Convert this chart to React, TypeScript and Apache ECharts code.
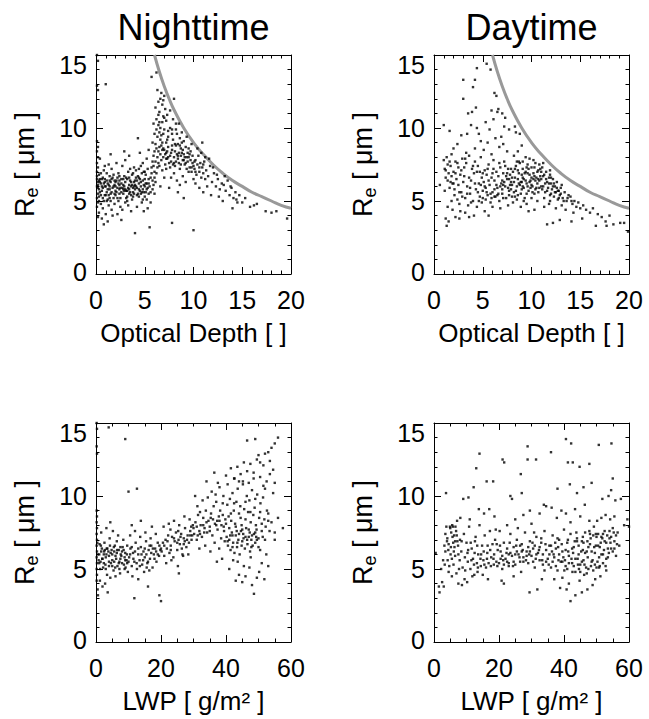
import React, { useEffect, useRef } from "react";
import * as echarts from "echarts";

const FONT = '"Liberation Sans", Arial, Helvetica, sans-serif';

// ---- tick values ----
const reTicks = [0, 5, 10, 15];
const tauTicks = [0, 5, 10, 15, 20];
const lwpTicks = [0, 20, 40, 60];

// ---- titles / axis names ----
const columnTitles = ["Nighttime", "Daytime"];
const tauName = "Optical Depth [ ]";
const lwpName = "LWP [ g/m\u00B2 ]";

// ---- gray limit curve (optical depth, Re) ----
const curveTau = [6, 6.5, 7, 7.5, 8, 9, 10, 11, 12, 13, 14, 15, 16, 17, 18, 19, 20];
const curveRe = [15, 13.85, 12.86, 12, 11.25, 10, 9, 8.2, 7.5, 6.9, 6.4, 6.0, 5.6, 5.3, 5.0, 4.7, 4.5];

// ---- Nighttime: optical depth vs Re ----
const nightTauRe = [
  [0.1,15.0],[0.2,14.6],[0.1,12.9],[0.2,12.6],[0.1,9.1],[0.2,8.7],[0.1,8.4],[0.2,8.0],[0.1,7.6],[0.2,7.3],[0.1,7.0],[0.3,6.8],[0.1,6.5],[0.2,6.3],[0.1,6.0],[0.3,5.8],[0.2,5.5],[0.1,5.2],[0.2,4.9],[0.1,4.6],[0.3,4.2],[0.2,3.9],[0.1,6.7],[0.2,6.1],[0.3,5.3],
  [0.5,6.2],[0.6,5.7],[0.7,6.6],[0.8,7.1],[0.5,4.8],[0.9,5.4],[1.0,6.0],[1.1,6.4],[1.2,5.1],[1.3,7.5],[0.6,3.8],[0.8,3.4],[1.4,5.8],[1.5,6.3],[1.6,4.4],[1.7,5.9],[1.8,6.8],[1.9,5.5],[1.0,4.1],[1.2,3.6],[0.7,5.2],[1.1,6.9],[1.5,5.0],[1.9,6.1],[0.9,6.5],[1.6,7.2],[1.3,4.7],[0.4,7.9],[1.7,4.0],[2.0,5.7],[1.0,13.0],[1.5,8.2],[0.7,5.9],[1.4,6.7],
  [2.1,6.4],[2.2,5.2],[2.3,6.9],[2.4,5.8],[2.5,4.6],[2.6,6.2],[2.7,7.4],[2.8,5.5],[2.9,6.0],[3.0,4.9],[3.1,6.6],[3.2,5.3],[3.3,7.0],[3.4,6.1],[3.5,5.6],[3.6,4.3],[3.7,6.8],[3.8,5.9],[3.9,6.3],[2.2,4.1],[2.6,3.7],[3.0,7.8],[3.4,8.1],[2.4,6.7],[2.8,6.5],[3.2,5.0],[3.6,5.4],[3.9,7.3],[2.0,6.0],[2.5,5.9],[3.1,5.7],[3.5,6.4],[2.3,5.0],[2.7,4.4],[3.7,5.1],[2.9,8.4],[4.0,2.8],[3.3,4.7],[2.1,7.6],[3.8,6.9],
  [4.1,6.0],[4.2,5.4],[4.3,6.7],[4.4,7.2],[4.5,5.7],[4.6,6.3],[4.7,4.9],[4.8,7.6],[4.9,6.1],[5.0,5.3],[5.1,6.8],[5.2,7.9],[5.3,5.9],[5.4,6.5],[4.2,4.6],[4.5,8.3],[4.8,5.1],[5.0,7.0],[5.3,4.5],[4.4,6.2],[4.7,6.9],[5.1,5.6],[4.0,5.8],[4.6,7.4],[5.4,8.5],[4.3,9.3],[5.2,6.2],[4.9,4.3],[5.5,3.2],[4.1,7.1],
  [0.3,6.4],[0.4,5.6],[0.5,6.9],[0.6,6.0],[0.8,5.0],[0.9,7.4],[1.1,5.6],[1.2,6.2],[1.3,5.4],[1.4,6.0],[1.6,6.5],[1.8,5.2],[2.0,6.3],[2.2,5.9],[2.4,6.1],[2.6,5.6],[2.8,6.1],[3.0,5.8],[3.2,6.5],[3.4,5.5],[3.6,6.0],[3.8,5.6],[4.0,6.4],[4.2,5.9],[4.4,5.3],[4.6,5.5],[4.8,6.4],[5.0,6.0],[5.2,5.1],[5.4,5.5],
  [0.2,5.9],[0.4,6.3],[0.6,6.5],[0.8,6.2],[1.0,5.4],[1.2,5.8],[1.4,6.4],[1.6,5.6],[1.8,6.0],[2.0,5.4],[2.2,6.6],[2.4,5.5],[2.6,6.5],[2.8,5.8],[3.0,6.3],[3.2,5.7],[3.4,6.6],[3.6,6.3],[3.8,5.3],[4.0,6.1],[4.2,6.4],[4.4,5.8],[4.6,6.0],[4.8,5.8],[5.0,6.5],[5.2,5.8],[5.4,6.2],[5.6,5.6],[5.8,6.4],[6.0,6.6],
  [0.3,5.0],[0.5,5.4],[0.7,4.5],[0.9,6.0],[1.1,5.0],[1.3,6.1],[1.5,5.5],[1.7,6.6],[1.9,4.8],[2.1,5.6],[2.3,6.2],[2.5,5.2],[2.7,5.9],[2.9,6.7],[3.1,5.2],[3.3,5.9],[3.5,7.2],[3.7,6.1],[3.9,5.5],[4.1,6.6],[4.3,5.5],[4.5,6.5],[4.7,5.6],[4.9,7.0],[5.1,6.2],[5.3,7.2],[5.5,6.0],[5.7,6.9],[5.9,7.4],[6.1,7.7],
  [0.4,6.5],[0.9,6.3],[1.4,5.2],[1.9,6.4],[2.4,6.4],[2.9,5.7],[3.4,5.8],[3.9,6.0],[4.4,6.6],[4.9,5.6],
  [5.6,6.6],[5.7,7.3],[5.8,5.8],[5.9,8.1],[6.0,7.0],[6.1,6.3],[6.2,8.6],[6.3,9.4],[6.4,10.2],[6.5,11.1],[6.6,12.0],[6.7,12.4],[6.8,11.6],[6.9,10.8],[7.0,9.9],[7.1,11.3],[7.2,10.5],[7.3,9.2],[7.4,8.7],[6.0,9.6],[6.2,10.6],[6.4,11.8],[6.6,10.0],[6.8,9.0],[7.0,12.2],[7.2,8.3],[6.1,11.4],[6.3,12.6],[6.5,9.7],[6.7,8.8],[6.9,8.0],[7.1,7.5],[7.3,7.9],[5.8,7.7],[6.0,5.5],[6.2,6.9],[6.4,7.6],[6.6,8.2],[6.8,7.1],[7.0,6.6],[7.2,7.2],[7.4,9.8],[5.7,13.5],[6.2,13.8],[5.9,10.3],[6.5,10.4],[6.9,11.9],[7.3,10.9],[6.1,8.9],[6.7,9.5],[5.6,4.9],[7.5,5.9],[6.3,7.3],[7.0,8.5],[6.6,6.0],[5.9,6.1],
  [6.3,8.0],[6.5,7.4],[6.7,7.8],[6.9,8.6],[7.1,8.2],[7.3,8.4],[7.5,7.6],[7.7,8.3],[7.9,7.5],[8.1,8.9],[8.3,8.2],[8.5,7.6],[8.7,8.1],[8.9,8.5],[9.1,8.0],[9.3,7.2],[9.5,8.6],[9.7,7.8],[9.9,8.1],[10.1,7.7],[6.4,8.4],[6.8,8.5],[7.2,7.9],[7.6,7.3],[8.0,7.6],[8.4,8.1],[8.8,8.3],[9.2,7.6],[9.6,8.2],[10.0,7.4],
  [6.6,9.2],[6.2,9.9],[6.8,10.4],[7.0,10.7],[6.4,10.9],[6.9,9.6],[7.4,9.4],[7.8,9.6],[8.2,10.3],[8.6,9.3],[6.0,8.4],[5.8,9.0],[6.5,8.7],[7.2,9.0],[7.8,9.9],
  [7.4,8.0],[7.8,8.8],[8.2,7.7],[8.6,8.8],[9.0,7.8],[9.4,8.3],[9.8,7.3],[10.2,7.0],[10.6,7.3],[11.0,7.5],
  [7.6,8.1],[7.7,7.7],[7.8,8.5],[7.9,9.2],[8.0,8.0],[8.1,7.4],[8.2,8.8],[8.3,9.6],[8.4,7.9],[8.5,8.3],[8.6,7.2],[8.7,8.6],[8.8,9.0],[8.9,7.8],[9.0,8.2],[9.1,7.5],[9.2,8.7],[9.3,9.4],[9.4,7.7],[9.5,8.0],[9.6,7.3],[9.7,8.4],[9.8,7.0],[9.9,7.6],[7.6,10.0],[7.9,10.6],[8.2,9.9],[8.5,10.3],[8.8,9.7],[7.7,6.6],[8.0,6.9],[8.3,6.4],[8.6,6.1],[8.9,6.7],[9.2,6.3],[9.5,7.0],[9.8,8.9],[8.1,8.4],[8.4,8.9],[8.7,7.5],[9.0,9.1],[9.3,8.0],[7.8,3.5],[9.0,5.2],[8.4,5.6],[7.6,11.2],[8.0,12.0],[10.0,6.5],
  [10.1,7.2],[10.2,7.8],[10.3,6.8],[10.4,7.5],[10.5,8.1],[10.6,7.0],[10.7,7.6],[10.8,6.6],[10.9,7.3],[11.0,6.9],[11.1,7.7],[11.2,6.5],[11.3,7.1],[11.5,6.7],[11.7,7.4],[11.9,6.3],[12.1,6.9],[12.3,6.0],[12.5,6.5],[12.7,5.8],[12.9,6.2],[10.2,6.2],[10.6,5.9],[11.0,5.6],[11.4,6.0],[10.4,8.6],[10.8,8.3],[11.2,8.0],[11.6,7.9],[12.0,7.3],[12.4,6.8],[10.0,3.0],[11.8,5.4],[12.6,5.3],[10.9,9.0],
  [13.1,6.1],[13.3,5.7],[13.5,6.4],[13.7,5.4],[13.9,5.9],[14.1,5.2],[14.3,5.6],[14.5,4.9],[14.7,5.4],[13.2,6.7],[13.8,6.0],[14.4,5.1],[15.0,4.9],[15.3,5.2],[16.2,4.7],[16.5,4.8],[15.8,4.6],[17.4,4.3],[18.0,4.2],[18.5,4.3],[19.6,3.8],[13.0,5.0],[14.0,4.5]
];

// ---- Daytime: optical depth vs Re ----
const dayTauRe = [
  [0.6,6.1],[1.0,7.8],[1.1,7.2],[1.2,6.6],[1.3,8.0],[1.4,7.5],[1.5,6.9],[1.6,5.9],[1.7,7.4],[1.8,8.2],[1.9,6.2],[2.0,7.0],[2.1,5.4],[2.2,7.7],[2.3,6.5],[2.4,5.1],[2.5,7.3],[2.6,4.8],[2.7,6.8],[2.8,5.6],[2.9,7.9],[1.2,3.8],[1.3,3.3],[1.5,3.6],[1.9,4.4],[2.2,3.9],[2.6,3.8],[1.0,10.2],[1.6,9.8],[2.0,8.6],[2.4,8.9],[2.8,9.5],[1.4,4.6],[2.1,5.8],[2.7,4.3],[1.8,5.0],[1.1,5.7],[2.5,6.1],[1.7,6.3],[2.9,5.3],[3.0,13.3],[3.0,12.0],
  [3.1,6.7],[3.2,5.2],[3.3,7.6],[3.4,6.0],[3.5,4.7],[3.6,8.1],[3.7,5.5],[3.8,6.4],[3.9,7.2],[4.0,5.0],[4.1,6.9],[4.2,8.6],[4.3,5.8],[4.4,4.6],[4.5,7.4],[4.6,6.2],[4.7,5.3],[4.8,9.1],[4.9,6.6],[3.2,4.2],[3.6,3.9],[4.1,4.0],[3.4,9.6],[3.8,10.2],[4.4,10.0],[3.5,11.0],[3.9,11.1],[4.0,12.8],[4.3,11.4],[4.6,9.6],[3.3,8.3],[4.2,7.7],[4.8,8.0],[3.7,5.9],[4.5,5.6],[4.9,4.9],[4.2,13.3],[4.4,14.1],[3.1,7.3],[4.7,7.0],
  [1.2,7.1],[1.4,6.4],[1.6,7.7],[1.8,6.7],[2.0,6.2],[2.2,6.9],[2.4,7.6],[2.6,5.6],[2.8,7.1],[3.0,6.3],[3.2,7.9],[3.4,5.5],[3.6,6.6],[3.8,4.9],[4.0,7.4],[4.2,6.2],[4.4,7.0],[4.6,5.0],[4.8,6.1],[5.0,5.2],[5.2,6.0],[5.4,5.6],[5.6,6.4],[5.8,5.5],[6.0,6.9],[6.2,5.3],[6.4,6.1],[6.6,5.5],[6.8,6.0],[7.0,5.8],
  [5.0,5.7],[5.1,6.3],[5.2,7.1],[5.3,5.1],[5.4,6.8],[5.5,5.4],[5.6,7.5],[5.7,6.1],[5.8,4.9],[5.9,6.6],[6.0,5.6],[6.1,7.8],[6.2,6.4],[6.3,5.3],[6.4,7.0],[6.5,5.9],[6.6,6.7],[6.7,5.0],[6.8,7.3],[6.9,6.2],[7.0,5.5],[7.1,6.9],[7.2,7.7],[7.3,6.0],[7.4,5.2],[7.5,6.5],[7.6,7.2],[7.7,5.7],[7.8,6.8],[7.9,6.3],[5.1,8.5],[5.5,9.0],[5.9,8.2],[6.3,9.3],[6.7,8.7],[7.1,8.9],[7.5,8.4],[5.3,10.4],[5.7,9.9],[6.1,10.6],[6.5,11.1],[6.9,9.4],[7.3,10.7],[7.7,9.9],[5.4,14.4],[5.8,14.0],[6.2,12.4],[6.4,12.2],[5.9,11.2],[6.6,11.3],[7.0,11.0],[5.2,4.3],[6.0,4.6],[6.8,4.5],[7.6,4.7],[5.6,4.0],[7.2,10.1],[6.2,5.8],[7.0,6.4],[5.0,6.9],
  [7.2,6.3],[7.4,6.7],[7.6,5.9],[7.8,6.1],[8.0,6.6],[8.2,6.3],[8.4,5.7],[8.6,6.5],[8.8,6.1],[9.0,6.8],[9.2,5.9],[9.4,6.4],[9.6,6.0],[9.8,6.3],[10.0,6.1],[10.2,6.5],[10.4,5.8],[10.6,7.0],[10.8,6.4],[11.0,6.0],[11.2,6.7],[11.4,6.2],[11.6,5.7],[11.8,6.2],[12.0,5.5],[12.2,6.0],[12.4,5.6],[12.6,5.9],[12.8,5.2],[13.0,5.5],
  [7.1,6.1],[7.5,6.9],[7.9,5.8],[8.3,7.2],[8.7,6.2],[9.1,6.6],[9.5,7.3],[9.9,5.9],[10.3,6.7],[10.7,6.5],[11.1,5.8],[11.5,6.5],[11.9,6.8],[12.3,6.2],[12.7,5.7],[13.1,6.1],[8.0,5.3],[9.0,6.3],[10.0,6.6],[11.0,7.0],[12.0,6.6],[9.3,6.9],[10.5,5.9],[8.6,7.1],[7.7,6.5],
  [5.5,7.2],[6.1,7.2],[6.7,7.6],[7.3,7.4],[7.9,7.2],[8.5,7.7],[9.1,7.7],[9.7,7.2],[10.3,7.3],[10.9,7.2],[5.3,5.9],[5.9,5.2],[6.5,5.4],[7.1,5.2],[7.7,5.4],[8.3,5.3],[8.9,5.5],[9.5,5.5],[10.1,5.6],[10.7,5.6],[11.3,5.2],[11.9,5.0],[13.3,5.0],[13.7,5.2],[14.1,5.0],
  [8.0,6.1],[8.1,7.0],[8.2,5.6],[8.3,6.6],[8.4,7.4],[8.5,6.0],[8.6,5.4],[8.7,6.9],[8.8,7.6],[8.9,6.3],[9.0,5.8],[9.1,7.2],[9.2,6.5],[9.3,5.2],[9.4,7.0],[9.5,6.2],[9.6,7.5],[9.7,5.7],[9.8,6.8],[9.9,6.4],[10.0,7.3],[10.1,6.0],[10.2,6.9],[10.3,5.5],[10.4,7.6],[10.5,6.6],[10.6,6.2],[10.7,7.1],[10.8,5.9],[10.9,6.7],[8.2,8.1],[8.6,8.4],[9.0,8.8],[9.4,8.0],[9.8,7.9],[10.2,7.8],[8.4,9.7],[8.8,9.6],[8.1,4.9],[8.9,4.6],[9.5,4.8],[10.3,4.4],[8.5,5.1],[9.2,5.0],[10.0,5.2],[10.6,5.0],[9.7,4.3],[8.3,10.1],[9.1,6.0],[10.4,6.4],[8.7,7.7],[9.6,6.9],[10.8,7.5],
  [11.0,6.5],[11.1,7.3],[11.2,6.0],[11.3,6.8],[11.4,5.6],[11.5,7.0],[11.6,6.3],[11.7,5.9],[11.8,6.6],[11.9,5.4],[12.0,6.2],[12.1,5.8],[12.2,6.5],[12.3,5.3],[12.4,6.0],[12.5,5.6],[12.6,6.3],[12.7,5.1],[12.8,5.7],[12.9,5.4],[13.0,5.9],[13.2,5.2],[13.4,5.6],[13.6,5.0],[13.8,5.4],[11.3,4.6],[11.8,4.8],[12.5,4.5],[13.1,4.7],[11.6,3.4],[12.2,3.5],[11.2,7.6],[11.9,7.1],[13.5,4.4],[12.9,3.7],
  [14.0,5.3],[14.2,4.8],[14.4,5.0],[14.6,4.6],[14.8,4.9],[15.0,4.5],[15.3,4.7],[15.6,4.4],[16.0,4.2],[16.3,4.5],[16.8,4.1],[17.2,3.9],[17.6,3.6],[18.0,4.0],[18.4,3.4],[19.1,3.5],[19.5,3.5],[19.9,2.9],[15.2,3.8],[14.3,4.2],[14.1,3.6],[16.6,3.3],[17.7,3.3]
];

// ---- Nighttime: LWP vs Re ----
const nightLwpRe = [
  [0.2,15.0],[0.3,14.6],[0.2,13.4],[0.3,12.9],[0.2,9.0],[0.3,8.6],[0.2,8.2],[0.3,7.8],[0.2,7.4],[0.3,7.0],[0.2,6.6],[0.3,6.2],[0.2,5.8],[0.3,5.4],[0.2,5.0],[0.3,4.6],[0.2,4.2],[0.5,3.6],[0.6,3.2],[0.4,6.8],
  [1.0,6.0],[1.4,5.5],[1.8,6.4],[2.2,5.1],[2.6,6.8],[3.0,5.8],[3.4,4.6],[3.8,6.2],[4.2,7.1],[4.6,5.4],[5.0,6.0],[5.4,4.9],[5.8,6.6],[6.2,5.7],[6.6,5.2],[7.0,6.3],[7.4,4.7],[7.8,5.9],[8.2,6.5],[8.6,5.3],[9.0,6.1],[9.4,5.6],[9.8,4.8],[1.2,4.2],[2.0,3.8],[2.8,4.0],[3.6,3.4],[4.4,4.4],[1.6,7.5],[3.2,7.8],[5.2,7.6],[6.8,7.3],[8.4,7.0],[2.4,6.0],[4.0,5.9],[5.6,6.2],[7.2,5.5],[8.8,5.0],[3.9,14.7],[9.0,13.9],[4.4,8.2],[1.3,5.0],[2.9,5.3],[6.0,4.5],[9.6,6.6],[7.6,6.0],[5.0,5.6],[3.3,6.4],[1.9,5.7],[6.4,6.9],
  [0.8,5.6],[1.6,6.2],[2.4,5.4],[3.2,6.0],[4.0,5.2],[4.8,6.3],[5.6,5.5],[6.4,6.1],[7.2,5.0],[8.0,6.2],[8.8,5.8],[9.6,5.4],[1.1,6.7],[2.7,6.3],[4.3,6.6],[5.9,5.1],[7.5,6.5],[9.1,5.1],
  [0.5,6.0],[1.0,5.4],[1.5,6.6],[2.0,5.7],[2.5,6.2],[3.0,5.0],[3.5,6.4],[4.0,5.5],[4.5,6.1],[5.0,5.2],[5.5,6.5],[6.0,5.9],[6.5,6.3],[7.0,5.4],[7.5,5.7],[8.0,5.4],[8.5,6.3],[9.0,5.6],[9.5,6.0],[10.0,5.5],[10.5,6.0],[11.0,6.5],[11.5,5.7],[12.0,6.2],[12.5,5.4],[13.0,6.4],[13.5,5.2],[14.0,6.0],[14.5,5.6],[15.0,6.4],[15.5,6.0],[16.0,5.5],[16.5,6.6],[17.0,6.1],[17.5,6.4],[18.0,5.7],[18.5,6.2],[19.0,6.0],[19.5,6.6],[20.0,6.4],
  [10.2,5.8],[10.6,6.4],[11.0,5.2],[11.4,6.1],[11.8,5.5],[12.2,6.8],[12.6,5.0],[13.0,6.0],[13.4,5.6],[13.8,6.5],[14.2,5.3],[14.6,6.2],[15.0,5.8],[15.4,6.9],[15.8,5.4],[16.2,6.3],[16.6,5.7],[17.0,6.6],[17.4,5.1],[17.8,6.0],[18.2,6.4],[18.6,5.5],[19.0,6.8],[19.4,5.9],[19.8,6.3],[10.5,7.3],[12.0,7.6],[13.6,7.2],[15.2,7.5],[16.8,7.1],[18.4,7.4],[11.2,4.5],[13.0,4.3],[14.8,4.8],[16.4,4.9],[11.0,8.0],[13.8,8.3],[10.0,10.3],[12.6,10.5],[11.8,3.0],[16.0,3.8],[19.5,3.2],[20.0,2.8],[17.2,7.9],[15.6,5.1],
  [20.2,6.2],[20.6,6.8],[21.0,5.9],[21.4,7.0],[21.8,6.4],[22.2,7.3],[22.6,6.1],[23.0,6.6],[23.4,7.2],[23.8,5.8],[24.2,6.9],[24.6,7.5],[25.0,6.3],[25.4,7.0],[25.8,6.7],[26.2,7.4],[26.6,6.0],[27.0,7.1],[27.4,7.8],[27.8,6.5],[28.2,7.3],[28.6,6.8],[29.0,7.6],[29.4,7.0],[29.8,8.0],[20.8,7.9],[22.4,8.1],[24.0,8.3],[25.6,8.0],[27.2,8.6],[28.8,8.4],[21.6,5.4],[23.2,5.6],[25.2,5.2],[26.8,5.9],[28.4,6.0],[25.5,4.7],[22.9,7.7],[26.4,6.4],[29.6,7.3],
  [21.0,6.6],[22.0,6.9],[23.0,6.3],[24.0,7.1],[25.0,6.8],[26.0,7.2],[27.0,6.7],[28.0,7.0],[29.0,7.3],[30.0,7.8],[31.0,7.9],[32.0,7.4],[33.0,8.0],[34.0,8.2],[35.0,7.6],[36.0,8.4],[37.0,8.0],[38.0,8.3],[39.0,8.7],[40.0,8.1],
  [25.3,7.6],[27.3,6.9],[29.3,7.9],[31.3,7.3],[33.3,7.5],[35.3,8.5],[37.3,8.3],[39.3,7.9],[41.3,7.3],[43.3,7.6],[45.3,7.4],[47.3,7.5],[49.3,7.2],[51.3,7.2],[44.8,6.6],[47.8,6.5],
  [30.2,7.4],[30.6,8.2],[31.0,7.0],[31.4,8.7],[31.8,7.6],[32.2,8.0],[32.6,7.2],[33.0,8.5],[33.4,7.8],[33.8,9.0],[34.2,7.5],[34.6,8.3],[35.0,7.9],[35.4,8.8],[35.8,7.3],[36.2,9.3],[36.6,8.1],[37.0,9.6],[37.4,7.7],[37.8,8.6],[38.2,9.0],[38.6,8.0],[39.0,9.5],[39.4,7.6],[39.8,8.4],[31.2,9.3],[32.8,9.7],[34.4,9.9],[35.6,10.3],[36.8,10.1],[38.0,10.6],[39.2,10.0],[34.0,11.0],[36.4,11.6],[37.5,10.9],[33.6,6.6],[35.2,6.2],[36.5,6.8],[37.9,6.4],[38.8,5.7],[39.6,6.9],[31.8,6.4],[30.5,10.0],[32.0,8.9],[37.2,5.5],[38.5,7.1],
  [40.2,7.2],[40.6,6.6],[41.0,7.0],[41.4,6.3],[41.8,7.5],[42.2,6.8],[42.6,6.1],[43.0,7.3],[43.4,6.5],[43.8,7.0],[44.2,6.0],[44.6,7.6],[45.0,6.9],[45.4,7.1],[45.8,6.4],[46.2,7.8],[46.6,6.7],[47.0,7.2],[47.4,6.2],[47.8,7.0],[48.2,6.6],[48.6,7.4],[49.0,6.8],[49.4,7.7],[50.0,6.5],
  [41.0,7.8],[42.0,7.3],[43.0,7.9],[44.0,7.4],[45.0,7.7],[46.0,7.2],[47.0,7.7],[48.0,7.3],[49.0,7.5],[50.0,7.1],[51.0,7.6],[52.0,7.0],[40.5,6.9],[43.5,6.8],[46.5,7.0],[49.5,7.0],[41.5,8.8],[44.5,8.5],[47.5,8.9],[50.5,8.9],[53.0,8.8],[42.5,9.5],[46.0,9.6],[49.0,9.8],[51.5,10.7],[47.0,10.9],[44.0,11.0],[48.5,11.2],[53.5,11.5],[50.5,12.3],
  [40.4,9.4],[40.8,8.6],[41.2,9.8],[41.6,8.3],[42.0,10.2],[42.4,9.0],[42.8,8.1],[43.2,9.6],[43.6,10.5],[44.0,8.8],[44.4,9.3],[44.8,8.0],[45.2,10.8],[45.6,9.1],[46.0,8.4],[46.4,10.0],[46.8,8.9],[47.2,9.7],[47.6,8.2],[48.0,10.4],[48.4,8.7],[48.8,9.2],[49.2,8.0],[49.6,10.1],[50.2,8.5],[50.6,9.5],[51.0,8.1],[51.4,9.9],[51.8,8.4],[52.2,7.9],[52.6,9.0],[53.0,8.3],[53.4,7.6],[54.0,8.2],[55.0,7.5],
  [40.0,11.4],[41.5,11.9],[42.5,11.2],[43.5,12.0],[44.5,11.5],[45.5,12.3],[46.5,11.7],[47.5,12.2],[48.5,11.6],[49.5,12.5],[50.5,11.3],[51.5,12.1],[52.5,11.0],[53.5,12.4],[54.5,11.8],[55.0,10.9],[50.0,12.8],[52.0,12.9],[53.0,13.0],[54.0,13.3],[55.0,13.6],[56.0,14.0],[46.5,13.8],[49.0,13.9],[42.6,11.2],[45.2,11.0],
  [41.0,5.0],[42.2,5.6],[43.0,4.2],[44.0,4.6],[45.0,4.1],[46.0,4.5],[47.2,5.1],[48.0,3.9],[48.6,3.3],[49.5,4.4],[50.2,4.8],[51.0,5.4],[51.8,4.3],[52.4,6.0],[53.0,5.2],[50.5,6.3],[47.6,5.8],[45.5,5.2],[43.6,5.5],[42.0,6.5],[55.0,7.0],[56.0,8.5],[52.0,10.5],[54.5,10.2],[40.5,10.8],[57.5,7.8]
];

// ---- Daytime: LWP vs Re ----
const dayLwpRe = [
  [0.5,6.1],[1.5,3.8],[1.7,3.4],[2.5,4.1],[3.0,3.8],[2.2,5.0],[2.8,5.6],[3.2,6.6],[3.5,7.4],[3.8,7.9],[4.1,7.1],[4.4,6.3],[4.7,5.2],[5.0,7.8],[5.3,7.5],[5.6,8.0],[5.9,6.8],[6.2,7.3],[6.5,5.9],[6.8,7.6],[7.1,8.3],[7.4,6.6],[7.7,5.0],[8.0,7.0],[4.5,4.8],[5.5,4.5],[6.0,5.3],[6.9,4.7],[7.5,4.0],[3.7,10.2],[4.2,5.6],[5.8,7.9],[6.6,7.9],[7.2,6.9],[3.3,5.3],[5.1,6.0],[6.3,6.5],[7.9,5.6],[4.9,7.9],[8.1,8.5],
  [3.5,6.2],[4.5,6.7],[5.5,5.7],[6.5,6.9],[7.5,6.0],[8.5,6.9],[9.5,5.8],[10.5,6.3],[11.5,5.6],[12.5,6.1],[13.5,5.1],[14.5,6.0],[15.5,5.3],[16.5,6.6],[17.5,5.2],[18.5,6.0],[19.5,5.2],[20.5,5.7],[21.5,5.3],[22.5,5.5],[23.5,6.1],[24.5,5.5],[25.5,6.2],[26.5,6.6],[27.5,5.5],[28.5,5.9],[29.5,6.2],[30.5,5.5],[31.5,6.0],[32.5,6.5],[33.5,6.0],[34.5,5.5],[35.5,6.0],[36.5,5.5],[37.5,5.2],[38.5,6.0],[39.5,5.5],[40.5,6.3],[41.5,5.4],[42.5,6.4],[43.5,5.7],[44.5,6.6],[45.5,5.5],[46.5,6.1],[47.5,6.5],[48.5,6.2],[49.5,5.3],[50.5,6.6],[51.5,6.0],[52.5,6.9],[53.5,6.4],[54.5,7.2],[55.5,6.4],[56.0,7.3],
  [41.0,5.0],[43.0,5.2],[45.0,4.8],[47.0,4.7],[49.0,4.9],[51.0,5.2],[53.0,5.7],[44.0,6.9],[46.0,6.8],[48.0,7.4],[50.0,7.2],[52.0,7.4],[54.0,7.6],[55.0,6.2],[38.0,7.1],[36.0,6.6],[33.0,7.1],[31.0,6.6],[29.0,6.5],[27.0,6.2],[25.0,6.0],[23.0,5.4],[21.0,5.9],
  [20.3,6.6],[21.3,5.6],[22.3,6.1],[23.3,6.8],[24.3,5.2],[25.3,6.6],[26.3,5.8],[27.3,6.3],[28.3,5.6],[29.3,6.0],[30.3,6.8],[31.3,5.7],[32.3,6.3],[33.3,5.6],[34.3,6.7],[35.3,5.3],[36.3,6.2],[37.3,6.8],[38.3,5.6],[39.3,6.7],[40.3,5.6],[41.3,6.2],[42.3,5.7],[43.3,6.9],[44.3,5.3],[45.3,6.2],[46.3,5.3],[47.3,5.8],[48.3,5.2],[49.3,6.5],[50.3,5.5],[51.3,6.8],[52.3,6.3],[53.3,7.3],[54.3,6.8],[55.3,7.5],[56.3,6.7],[43.8,7.5],[45.8,7.2],[47.8,7.6],[49.8,7.4],[51.8,7.1],[53.8,6.1],[46.8,5.1],[48.8,5.6],[50.8,5.1],[52.8,5.2],[44.6,5.0],[42.6,4.8],[40.1,4.9],
  [10.3,6.1],[11.3,6.8],[12.3,5.3],[13.3,6.6],[14.3,5.7],[15.3,6.2],[16.3,5.7],[17.3,6.3],[18.3,5.7],[19.3,6.7],[5.2,6.5],[6.1,6.2],[7.0,7.3],[4.0,6.9],[5.7,7.2],
  [8.4,6.2],[8.8,5.1],[9.2,7.4],[9.6,4.9],[10.0,6.8],[10.4,5.5],[10.8,7.9],[11.2,5.0],[11.6,6.4],[12.0,5.7],[12.4,4.6],[12.8,7.2],[13.2,5.4],[13.6,6.0],[14.0,8.0],[14.4,5.2],[14.8,6.6],[15.2,5.6],[15.6,7.3],[16.0,5.1],[16.4,6.1],[16.8,5.4],[17.2,7.6],[17.6,5.8],[18.0,6.7],[18.4,5.3],[18.8,7.0],[19.2,5.5],[19.6,6.3],[8.6,3.9],[9.4,4.3],[10.2,4.1],[11.8,4.5],[13.4,4.8],[15.0,4.6],[9.0,9.8],[10.6,9.9],[12.2,10.6],[13.8,9.1],[15.4,8.8],[17.0,9.1],[18.6,8.6],[14.0,12.9],[13.0,11.9],[11.0,8.4],[16.2,11.0],[18.2,11.0],[19.0,7.7],[12.6,6.9],[16.6,4.3],
  [20.0,5.4],[20.5,6.2],[21.0,5.0],[21.5,6.8],[22.0,5.7],[22.5,6.4],[23.0,5.2],[23.5,7.4],[24.0,5.9],[24.5,6.5],[25.0,5.3],[25.5,7.0],[26.0,6.0],[26.5,5.5],[27.0,6.7],[27.5,5.8],[28.0,7.5],[28.5,6.2],[29.0,5.4],[29.5,6.9],[30.0,5.9],[30.5,6.4],[31.0,5.1],[31.5,7.2],[32.0,6.1],[32.5,5.6],[33.0,6.8],[33.5,5.3],[34.0,7.6],[34.5,6.3],[35.0,5.7],[20.8,4.2],[21.5,4.0],[24.5,4.5],[26.8,4.8],[29.4,3.4],[31.8,3.6],[33.2,4.3],[22.5,8.0],[25.0,8.4],[27.5,8.7],[30.0,8.1],[32.5,8.8],[34.5,9.3],[23.5,10.0],[21.1,12.5],[21.6,12.3],[26.7,11.5],[28.8,13.4],[28.8,12.5],[31.4,12.5],[24.0,9.8],[29.5,9.0],[33.8,9.4],[27.0,10.2],[20.2,7.6],[25.8,7.8],[30.8,7.5],[34.0,4.9],[23.0,6.0],
  [35.5,6.6],[36.0,5.1],[36.5,7.3],[37.0,5.8],[37.5,6.4],[38.0,4.9],[38.5,7.0],[39.0,5.5],[39.5,6.2],[40.0,7.7],[40.5,5.2],[41.0,6.8],[41.5,5.9],[42.0,7.4],[42.5,5.4],[43.0,6.5],[43.5,4.8],[44.0,7.1],[44.5,6.0],[45.0,5.3],[45.5,6.9],[46.0,5.6],[46.5,7.5],[47.0,6.2],[47.5,5.0],[48.0,6.7],[48.5,5.5],[49.0,7.3],[49.5,6.1],[50.0,5.1],
  [36.2,9.2],[37.8,8.5],[39.2,9.0],[40.6,8.8],[42.0,8.2],[43.4,9.1],[45.0,8.6],[46.4,9.4],[47.8,8.3],[49.2,7.9],
  [36.0,13.0],[40.6,13.9],[42.2,13.6],[41.2,12.3],[42.7,12.3],[44.8,12.0],[47.8,12.2],[38.0,10.5],[41.8,10.8],[44.0,10.2],[46.0,10.6],[48.5,10.9],
  [37.0,4.3],[39.5,4.4],[40.8,3.6],[42.0,2.8],[43.5,3.2],[45.5,3.4],[47.2,3.6],[48.8,3.9],[44.8,4.2],[46.2,4.6],[38.8,3.7],[41.5,4.0],[49.6,4.3],
  [36.8,6.0],[38.2,6.5],[39.8,5.8],[41.2,7.0],[42.8,6.1],[44.2,5.7],[45.8,6.3],[47.2,6.9],[48.2,7.1],[49.8,6.6],
  [50.5,7.4],[51.0,6.5],[51.5,7.2],[52.0,6.0],[52.5,7.6],[53.0,6.8],[53.5,5.8],[54.0,7.1],[54.5,6.4],[55.0,7.8],[55.5,6.9],[56.0,5.9],[50.2,8.3],[51.5,8.5],[52.8,8.7],[54.2,8.4],[55.5,8.6],[50.7,13.5],[54.6,13.6],[55.0,11.2],[54.5,10.4],[55.8,9.7],[57.5,9.8],[58.5,8.0],[59.5,8.4],[60.0,7.9],[52.0,5.4],[53.0,4.9],[51.2,4.5],[50.8,5.8],[56.5,7.5],[57.0,6.6],[53.7,10.0],[51.8,9.8]
];

// ---- layout (pixels) ----
const PANEL_W = 195;
const PANEL_H = 219;
const panels = [
  { left: 96, top: 55, data: nightTauRe, ticks: tauTicks, minorSplit: 5, xName: tauName, curve: true },
  { left: 434, top: 55, data: dayTauRe, ticks: tauTicks, minorSplit: 5, xName: tauName, curve: true },
  { left: 96, top: 423, data: nightLwpRe, ticks: lwpTicks, minorSplit: 4, xName: lwpName, curve: false },
  { left: 434, top: 423, data: dayLwpRe, ticks: lwpTicks, minorSplit: 4, xName: lwpName, curve: false },
];

const labelRich = {
  n: { fontSize: 25, fontFamily: FONT, color: "#000" },
  sp: { fontSize: 1, lineHeight: 44, fontFamily: FONT, color: "#000" },
  sp2: { fontSize: 1, lineHeight: 30, fontFamily: FONT, color: "#000" },
  dn: { fontSize: 25, lineHeight: 24, verticalAlign: "bottom", fontFamily: FONT, color: "#000" },
  up: { fontSize: 25, lineHeight: 16, verticalAlign: "top", fontFamily: FONT, color: "#000" },
};

function yLabel(v: number) {
  if (v === reTicks[reTicks.length - 1]) return `{sp| }{dn|${v}}`;
  if (v === reTicks[0]) return `{sp2| }{up|${v}}`;
  return `{n|${v}}`;
}

function buildOption() {
  const grid: any[] = [];
  const xAxis: any[] = [];
  const yAxis: any[] = [];
  const series: any[] = [];
  const line = { show: true, onZero: false, lineStyle: { color: "#000", width: 1 } };
  panels.forEach((p, i) => {
    grid.push({ left: p.left, top: p.top, width: PANEL_W, height: PANEL_H, containLabel: false });
    const xMin = p.ticks[0];
    const xMax = p.ticks[p.ticks.length - 1];
    const xInt = p.ticks[1] - p.ticks[0];
    const yMin = reTicks[0];
    const yMax = reTicks[reTicks.length - 1];
    const yInt = reTicks[1] - reTicks[0];
    const tick = { show: true, inside: true, length: 7, lineStyle: { color: "#000", width: 1 } };
    const minor = (n: number) => ({ show: true, splitNumber: n, length: 3.5, lineStyle: { color: "#000", width: 1 } });
    xAxis.push({
      type: "value", gridIndex: i, position: "bottom", min: xMin, max: xMax, interval: xInt,
      axisLine: line, axisTick: tick, minorTick: minor(p.minorSplit), splitLine: { show: false },
      axisLabel: { color: "#000", fontSize: 25, fontFamily: FONT, margin: 13, showMinLabel: true, showMaxLabel: true },
      name: p.xName, nameLocation: "middle", nameGap: 46,
      nameTextStyle: { color: "#000", fontSize: 26, fontFamily: FONT },
    });
    xAxis.push({
      type: "value", gridIndex: i, position: "top", min: xMin, max: xMax, interval: xInt,
      axisLine: line, axisTick: tick, minorTick: minor(p.minorSplit), splitLine: { show: false },
      axisLabel: { show: false },
    });
    yAxis.push({
      type: "value", gridIndex: i, position: "left", min: yMin, max: yMax, interval: yInt,
      axisLine: line, axisTick: tick, minorTick: minor(5), splitLine: { show: false },
      axisLabel: {
        color: "#000", fontSize: 25, fontFamily: FONT, margin: 9, showMinLabel: true, showMaxLabel: true,
        formatter: yLabel, rich: labelRich,
      },
      name: "{a|R}{b|e}{a| [ \u03BCm ]}", nameLocation: "middle", nameGap: 55,
      nameTextStyle: {
        color: "#000", fontFamily: FONT,
        rich: {
          a: { fontSize: 27, lineHeight: 32, fontFamily: FONT, color: "#000" },
          b: { fontSize: 18, lineHeight: 19, verticalAlign: "bottom", fontFamily: FONT, color: "#000" },
        },
      },
    });
    yAxis.push({
      type: "value", gridIndex: i, position: "right", min: yMin, max: yMax, interval: yInt,
      axisLine: line, axisTick: tick, minorTick: minor(5), splitLine: { show: false },
      axisLabel: { show: false },
    });
    series.push({
      type: "scatter", xAxisIndex: 2 * i, yAxisIndex: 2 * i, data: p.data,
      symbol: "rect", symbolSize: 2.4, itemStyle: { color: "#000" }, silent: true, z: 3,
    });
    if (p.curve) {
      series.push({
        type: "line", xAxisIndex: 2 * i, yAxisIndex: 2 * i,
        data: curveTau.map((t, k) => [t, curveRe[k]]),
        smooth: true, showSymbol: false, symbol: "none", clip: true,
        lineStyle: { color: "#999999", width: 3 }, silent: true, z: 2,
      });
    }
  });
  const graphic = columnTitles.map((t, i) => ({
    type: "text", x: panels[i].left + PANEL_W / 2, y: 27,
    style: { text: t, font: `36px ${FONT}`, fill: "#000", align: "center", verticalAlign: "middle" },
  }));
  return { animation: false, backgroundColor: "#fff", grid, xAxis, yAxis, series, graphic };
}

export default function App() {
  const ref = useRef<HTMLDivElement>(null);
  useEffect(() => {
    if (!ref.current) return;
    const chart = echarts.init(ref.current, undefined, { renderer: "svg" });
    chart.setOption(buildOption() as any);
    return () => chart.dispose();
  }, []);
  return (
    <div
      ref={ref}
      style={{ position: "fixed", left: 0, top: 0, width: 649, height: 719, background: "#fff" }}
    />
  );
}
